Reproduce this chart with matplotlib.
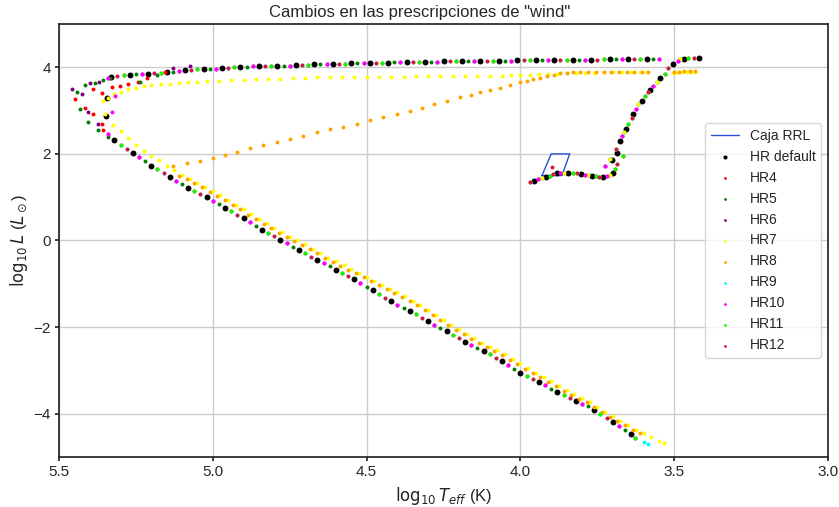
import matplotlib
matplotlib.use("Agg")
import matplotlib.pyplot as plt
import seaborn as sns
import numpy as np

# ---- data (log10 Teff, log10 L) ----
# horizontal branch + AGB, shared by every run
agb_T = [3.969, 3.955, 3.942, 3.930, 3.918, 3.905, 3.893, 3.882, 3.871, 3.857,
         3.844, 3.830, 3.817, 3.803, 3.790, 3.780, 3.768, 3.756, 3.744, 3.732,
         3.720, 3.708, 3.698, 3.692, 3.687, 3.703, 3.725, 3.709, 3.685, 3.667,
         3.688, 3.678, 3.671, 3.665, 3.657, 3.649, 3.638, 3.633, 3.625, 3.617,
         3.606, 3.595, 3.587, 3.579, 3.568, 3.557, 3.546, 3.530, 3.519, 3.503,
         3.487, 3.481, 3.468, 3.455, 3.437, 3.420]
agb_L = [1.34, 1.38, 1.42, 1.44, 1.46, 1.50, 1.54, 1.56, 1.57, 1.57,
         1.57, 1.57, 1.56, 1.54, 1.52, 1.51, 1.50, 1.48, 1.46, 1.47,
         1.49, 1.52, 1.55, 1.65, 1.77, 1.86, 1.73, 1.88, 2.01, 1.95,
         2.12, 2.30, 2.42, 2.50, 2.57, 2.70, 2.84, 2.92, 3.04, 3.15,
         3.23, 3.34, 3.42, 3.47, 3.57, 3.65, 3.75, 3.84, 3.99, 4.07,
         4.15, 4.19, 4.20, 4.21, 4.21, 4.21]

# post-AGB crossing at high luminosity
post_T = [3.55, 3.57, 3.59, 3.61, 3.63, 3.65, 3.67, 3.69, 3.71, 3.73,
          3.75, 3.77, 3.79, 3.81, 3.83, 3.85, 3.87, 3.89, 3.91, 3.93,
          3.95, 3.97, 3.99, 4.01, 4.03, 4.05, 4.07, 4.09, 4.11, 4.13,
          4.15, 4.17, 4.19, 4.21, 4.23, 4.25, 4.27, 4.29, 4.31, 4.33,
          4.35, 4.37, 4.39, 4.41, 4.43, 4.45, 4.47, 4.49, 4.51, 4.53,
          4.55, 4.57, 4.59, 4.61, 4.63, 4.65, 4.67, 4.69, 4.71, 4.73,
          4.75, 4.77, 4.79, 4.81, 4.83, 4.85, 4.87, 4.89, 4.91, 4.93,
          4.95, 4.97, 4.99, 5.01, 5.03, 5.05, 5.07, 5.09, 5.11, 5.13,
          5.15, 5.17, 5.19, 5.21, 5.23, 5.25, 5.27, 5.29, 5.31, 5.33, 5.34]
post_L = [4.19, 4.19, 4.19, 4.19, 4.18, 4.18, 4.18, 4.18, 4.18, 4.18,
          4.17, 4.17, 4.17, 4.17, 4.17, 4.17, 4.16, 4.16, 4.16, 4.16,
          4.16, 4.16, 4.16, 4.16, 4.15, 4.15, 4.15, 4.15, 4.15, 4.15,
          4.14, 4.14, 4.14, 4.14, 4.14, 4.14, 4.13, 4.13, 4.13, 4.13,
          4.12, 4.12, 4.12, 4.12, 4.11, 4.11, 4.10, 4.10, 4.09, 4.09,
          4.09, 4.08, 4.08, 4.08, 4.07, 4.07, 4.07, 4.06, 4.05, 4.05,
          4.04, 4.04, 4.03, 4.03, 4.02, 4.02, 4.02, 4.01, 4.01, 4.00,
          3.99, 3.98, 3.97, 3.96, 3.96, 3.95, 3.94, 3.93, 3.92, 3.90,
          3.88, 3.87, 3.86, 3.85, 3.84, 3.84, 3.83, 3.82, 3.80, 3.77, 3.76]

# white dwarf cooling track
wd_T = [5.34, 5.32, 5.30, 5.28, 5.26, 5.24, 5.22, 5.20, 5.18, 5.16,
        5.14, 5.12, 5.10, 5.08, 5.06, 5.04, 5.02, 5.00, 4.98, 4.96,
        4.94, 4.92, 4.90, 4.88, 4.86, 4.84, 4.82, 4.80, 4.78, 4.76,
        4.74, 4.72, 4.70, 4.68, 4.66, 4.64, 4.62, 4.60, 4.58, 4.56,
        4.54, 4.52, 4.50, 4.48, 4.46, 4.44, 4.42, 4.40, 4.38, 4.36,
        4.34, 4.32, 4.30, 4.28, 4.26, 4.24, 4.22, 4.20, 4.18, 4.16,
        4.14, 4.12, 4.10, 4.08, 4.06, 4.04, 4.02, 4.00, 3.98, 3.96,
        3.94, 3.92, 3.90, 3.88, 3.86, 3.84, 3.82, 3.80, 3.78, 3.76,
        3.74, 3.72, 3.70, 3.68, 3.66, 3.64, 3.627]
wd_L = [2.40, 2.31, 2.21, 2.12, 2.03, 1.93, 1.83, 1.73, 1.64, 1.55,
        1.46, 1.38, 1.30, 1.22, 1.15, 1.07, 1.00, 0.92, 0.84, 0.76,
        0.68, 0.60, 0.51, 0.42, 0.33, 0.25, 0.17, 0.10, 0.02, -0.06,
        -0.14, -0.22, -0.30, -0.38, -0.45, -0.53, -0.60, -0.67, -0.75, -0.82,
        -0.90, -0.98, -1.07, -1.15, -1.24, -1.32, -1.40, -1.48, -1.55, -1.63,
        -1.70, -1.78, -1.86, -1.94, -2.02, -2.10, -2.18, -2.26, -2.34, -2.41,
        -2.49, -2.56, -2.63, -2.71, -2.78, -2.87, -2.96, -3.05, -3.13, -3.20,
        -3.27, -3.34, -3.42, -3.49, -3.57, -3.64, -3.71, -3.77, -3.83, -3.92,
        -4.01, -4.10, -4.19, -4.28, -4.38, -4.48, -4.55]

# extra points of each run around the blue hook
hook_default_T = [5.345, 5.347]
hook_default_L = [3.30, 2.88]
hook4_T = [5.155, 5.215, 5.242, 5.275, 5.302, 5.329, 5.361, 5.388, 5.448, 5.415, 5.388, 5.361, 5.356]
hook4_L = [3.88, 3.76, 3.65, 3.61, 3.57, 3.55, 3.40, 3.49, 3.26, 3.07, 2.92, 2.70, 2.55]
hook5_T = [5.182, 5.237, 5.334, 5.356, 5.383, 5.415, 5.443, 5.432, 5.405, 5.372]
hook5_L = [3.82, 3.67, 3.75, 3.70, 3.63, 3.59, 3.44, 3.03, 2.73, 2.55]
hook6_T = [5.074, 5.128, 5.369, 5.399, 5.459, 5.426, 5.405, 5.372, 5.340]
hook6_L = [4.03, 3.98, 3.66, 3.63, 3.50, 3.39, 2.96, 2.70, 2.47]
hook9_T = [3.600, 3.584]
hook9_L = [-4.65, -4.70]
hook10_T = [5.318, 5.329, 5.340]
hook10_L = [3.34, 2.96, 2.47]
hook12_T = [3.898]
hook12_L = [1.70]

# HR7 (yellow): lower crossing + its own cooling track
hr7_T = [3.432, 3.445, 3.460, 3.475, 3.490, 3.505,
         3.59, 3.61, 3.64, 3.67, 3.70, 3.73, 3.76, 3.79, 3.82, 3.85,
         3.88, 3.91, 3.94, 3.97, 4.00, 4.03, 4.06, 4.10, 4.14, 4.18,
         4.22, 4.26, 4.30, 4.34, 4.38, 4.42, 4.46, 4.50, 4.54, 4.58,
         4.62, 4.66, 4.70, 4.74, 4.78, 4.82, 4.86, 4.90, 4.94, 4.98,
         5.02, 5.05, 5.08, 5.11, 5.14, 5.17, 5.20, 5.225, 5.25, 5.275,
         5.30, 5.32, 5.34, 5.356,
         5.350, 5.325, 5.300, 5.275, 5.250, 5.225, 5.200, 5.175, 5.150, 5.125,
         5.100, 5.075, 5.050, 5.025, 5.000, 4.975, 4.950, 4.925, 4.900, 4.875,
         4.850, 4.825, 4.800, 4.775, 4.750, 4.725, 4.700, 4.675, 4.650, 4.625,
         4.600, 4.575, 4.550, 4.525, 4.500, 4.475, 4.450, 4.425, 4.400, 4.375,
         4.350, 4.325, 4.300, 4.275, 4.250, 4.225, 4.200, 4.175, 4.150, 4.125,
         4.100, 4.075, 4.050, 4.025, 4.000, 3.975, 3.950, 3.925, 3.900, 3.875,
         3.850, 3.825, 3.800, 3.775, 3.750, 3.725, 3.700, 3.675, 3.650, 3.625,
         3.600, 3.575, 3.550, 3.535]
hr7_L = [3.90, 3.90, 3.89, 3.89, 3.88, 3.87,
         3.88, 3.88, 3.88, 3.88, 3.88, 3.88, 3.87, 3.87, 3.86, 3.86,
         3.85, 3.84, 3.84, 3.83, 3.82, 3.82, 3.81, 3.81, 3.80, 3.80,
         3.80, 3.79, 3.79, 3.79, 3.78, 3.78, 3.78, 3.78, 3.78, 3.77,
         3.77, 3.77, 3.76, 3.75, 3.74, 3.73, 3.72, 3.71, 3.70, 3.69,
         3.68, 3.66, 3.65, 3.63, 3.62, 3.61, 3.58, 3.56, 3.53, 3.49,
         3.44, 3.38, 3.30, 3.21,
         2.92, 2.67, 2.52, 2.37, 2.20, 2.06, 1.96, 1.85, 1.73, 1.62,
         1.52, 1.43, 1.33, 1.24, 1.14, 1.04, 0.94, 0.83, 0.72, 0.61,
         0.50, 0.40, 0.29, 0.19, 0.09, 0.00, -0.09, -0.19, -0.29, -0.40,
         -0.48, -0.57, -0.66, -0.75, -0.84, -0.93, -1.02, -1.11, -1.20, -1.29,
         -1.39, -1.49, -1.60, -1.72, -1.83, -1.95, -2.05, -2.16, -2.26, -2.36,
         -2.45, -2.54, -2.63, -2.74, -2.84, -2.95, -3.05, -3.15, -3.25, -3.36,
         -3.46, -3.55, -3.64, -3.73, -3.84, -3.95, -4.06, -4.16, -4.27, -4.37,
         -4.45, -4.53, -4.62, -4.67]

# HR8 (orange): short crossing, diagonal drop, cooling track
hr8_T = [3.432, 3.450, 3.468, 3.485, 3.500,
         3.584, 3.605, 3.630, 3.655, 3.680, 3.705, 3.730, 3.755, 3.780, 3.805,
         3.828, 3.850, 3.871, 3.892, 3.914, 3.935, 3.958, 3.980, 4.001, 4.035,
         4.066, 4.100, 4.131, 4.160, 4.196, 4.240, 4.280, 4.320, 4.360, 4.402,
         4.446, 4.489, 4.532, 4.576, 4.619, 4.662, 4.706, 4.749, 4.792, 4.836,
         4.879, 4.920, 4.960, 5.000, 5.042, 5.085, 5.128,
         5.110, 5.085, 5.060, 5.035, 5.010, 4.985, 4.960, 4.935, 4.910, 4.885,
         4.860, 4.835, 4.810, 4.785, 4.760, 4.735, 4.710, 4.685, 4.660, 4.635,
         4.610, 4.585, 4.560, 4.535, 4.510, 4.485, 4.460, 4.435, 4.410, 4.385,
         4.360, 4.335, 4.310, 4.285, 4.260, 4.235, 4.210, 4.185, 4.160, 4.135,
         4.110, 4.085, 4.060, 4.035, 4.010, 3.985, 3.960, 3.935, 3.910, 3.885,
         3.860, 3.835, 3.810, 3.785, 3.760, 3.735, 3.710, 3.685, 3.660, 3.635,
         3.612]
hr8_L = [3.92, 3.91, 3.91, 3.90, 3.89,
         3.89, 3.89, 3.89, 3.90, 3.90, 3.89, 3.89, 3.89, 3.89, 3.88,
         3.88, 3.87, 3.86, 3.83, 3.80, 3.76, 3.72, 3.69, 3.65, 3.59,
         3.53, 3.47, 3.42, 3.37, 3.31, 3.23, 3.15, 3.07, 3.00, 2.93,
         2.86, 2.78, 2.70, 2.63, 2.57, 2.50, 2.42, 2.35, 2.28, 2.21,
         2.13, 2.05, 1.97, 1.90, 1.84, 1.79, 1.73,
         1.50, 1.42, 1.32, 1.23, 1.13, 1.03, 0.93, 0.83, 0.72, 0.60,
         0.50, 0.39, 0.28, 0.18, 0.08, -0.01, -0.10, -0.20, -0.30, -0.40,
         -0.49, -0.58, -0.67, -0.76, -0.85, -0.94, -1.03, -1.12, -1.21, -1.30,
         -1.40, -1.50, -1.61, -1.72, -1.84, -1.95, -2.06, -2.17, -2.27, -2.37,
         -2.46, -2.55, -2.65, -2.75, -2.85, -2.96, -3.06, -3.16, -3.27, -3.37,
         -3.47, -3.56, -3.65, -3.74, -3.85, -3.96, -4.07, -4.17, -4.27, -4.37,
         -4.44]

# RRL instability box
box_T = [3.93, 3.865, 3.84, 3.90, 3.93]
box_L = [1.5, 1.5, 2.0, 2.0, 1.5]

labels = ["HR default", "HR4", "HR5", "HR6", "HR7", "HR8", "HR9", "HR10", "HR11", "HR12"]
colors = ["black", "red", "green", "purple", "yellow", "orange", "cyan", "magenta", "lime", "crimson"]

# which points of the shared track each run shows (index mod 6)
slot = {"HR default": (1, 4), "HR4": (5,), "HR5": (3,), "HR6": (2,), "HR7": (3,),
        "HR8": (0,), "HR9": (0,), "HR10": (2,), "HR11": (5,), "HR12": (0,)}

# ---- plot ----
sns.set_theme(style="ticks")
plt.rcParams["font.family"] = ["Liberation Sans", "DejaVu Sans"]
plt.rcParams["axes.grid"] = True
plt.rcParams["grid.color"] = ".8"
plt.rcParams["xtick.major.size"] = 3
plt.rcParams["ytick.major.size"] = 3
plt.rcParams["xtick.major.pad"] = 3
plt.rcParams["ytick.major.pad"] = 3

fig = plt.figure(figsize=(8.39, 5.07), dpi=100)
ax = fig.add_axes([0.0703, 0.0986, 0.9167, 0.8541])

ax.plot(box_T, box_L, color="#2a4fd6", lw=1.0, label="Caja RRL")

main_T = np.array(agb_T + post_T + wd_T)
main_L = np.array(agb_L + post_L + wd_L)
idx = np.arange(len(main_T)) % 6
n_agb = len(agb_T)

extra = {
    "HR default": (hook_default_T, hook_default_L),
    "HR4": (hook4_T, hook4_L),
    "HR5": (hook5_T, hook5_L),
    "HR6": (hook6_T, hook6_L),
    "HR9": (hook9_T, hook9_L),
    "HR10": (hook10_T, hook10_L),
    "HR12": (hook12_T, hook12_L),
}

for lab, col in zip(labels, colors):
    keep = np.isin(idx, slot[lab])
    if lab in ("HR7", "HR8"):
        # these runs only share the HB/AGB part
        keep[n_agb:] = False
        own_T, own_L = (hr7_T, hr7_L) if lab == "HR7" else (hr8_T, hr8_L)
        T = own_T + list(main_T[keep])
        L = own_L + list(main_L[keep])
    else:
        T = list(main_T[keep])
        L = list(main_L[keep])
        if lab in extra:
            T += extra[lab][0]
            L += extra[lab][1]
    size = 18 if lab == "HR default" else 8
    ax.scatter(T, L, s=size, color=col, linewidths=0, label=lab, zorder=3)

ax.set_xlim(5.5, 3.0)
ax.set_ylim(-5, 5)
ax.set_xticks([5.5, 5.0, 4.5, 4.0, 3.5, 3.0])
ax.set_yticks([-4, -2, 0, 2, 4])
fig.suptitle('Cambios en las prescripciones de "wind"', x=0.5, y=0.976,
             va="center", fontsize=12)
ax.set_xlabel(r"$\log_{10}T_{eff}$ (K)")
ax.set_ylabel(r"$\log_{10}L$ ($L_\odot$)", labelpad=2)
ax.legend(loc="center right", markerscale=0.7, fontsize=10)

fig.savefig("out.png", dpi=100)
